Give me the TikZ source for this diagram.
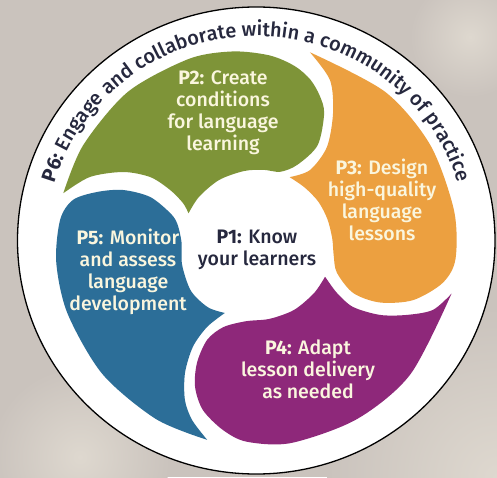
\documentclass[tikz,border=0pt]{standalone}
\usepackage{fontspec}
\setmainfont{Fira Sans}[UprightFont={* Medium},BoldFont={* Bold}]
\usetikzlibrary{decorations.text}
\definecolor{bgc}{RGB}{202,195,189}
\definecolor{bglight}{RGB}{222,216,207}
\definecolor{pgreen}{RGB}{126,148,56}
\definecolor{porange}{RGB}{236,160,64}
\definecolor{ppurple}{RGB}{142,40,122}
\definecolor{pblue}{RGB}{44,110,152}
\definecolor{navy}{RGB}{38,40,62}
\definecolor{cream}{RGB}{250,246,222}
\begin{document}
\begin{tikzpicture}[x=1pt,y=1pt,
  lbl/.style={align=center, text=cream, font=\fontsize{19.5}{22}\selectfont, inner sep=0pt}]
\useasboundingbox (0,0) rectangle (497,477);
\fill[bgc] (0,0) rectangle (497,477);
\shade[inner color=bglight, outer color=bgc] (497,0) circle (170);
\shade[inner color=bglight, outer color=bgc] (80,20) circle (90);
\shade[inner color=bglight, outer color=bgc] (470,440) circle (60);
\begin{scope}[shift={(256.5,232)}]
\filldraw[fill=white, draw=black, line width=1.3pt] (-0.25,4.5) ellipse [x radius=238.75, y radius=233.5];
% green P2
\fill[pgreen] plot[smooth] coordinates {(155:75) (140:75) (120:75) (100:75) (85:75.5) (72:77) (63:90) (58.5:117) (62.8:148) (67:162) (72:174) (78:183) (86:190) (97:195) (110:198) (130:200) (150:200) (165:200)}
  -- plot[smooth] coordinates {(165:200) (157.8:180) (151.3:152) (147.4:126) (147.5:102.5) (150.3:84.6) (155:75)} -- cycle;
% orange P3
\fill[porange] plot[smooth] coordinates {(64:75.5) (50:75) (35:75.5) (20:75.5) (5:76) (-8:78) (-19:85) (-26.4:108) (-25:136) (-19.4:166) (-11.5:190) (-4:199.5) (10:200.5) (30:200.5) (50:200) (74.5:200)}
  -- plot[smooth] coordinates {(74.5:200) (66:180.6) (59.9:152.6) (54.3:120.7) (54.5:92) (64:75.5)} -- cycle;
% purple P4
\fill[ppurple] plot[smooth] coordinates {(335:75.5) (320:75) (300:75) (280:75) (262:77) (248:88.6) (242.5:107) (243.2:132) (246.6:154.7) (252:173.5) (259.7:188) (267.2:197) (280:201) (300:201) (320:201) (346:201)}
  -- plot[smooth] coordinates {(346:201) (339.8:188) (335.1:166) (330.5:142) (327.3:114.7) (329.2:93.7) (335:76)} -- cycle;
% blue P5
\fill[pblue] plot[smooth] coordinates {(245:75) (232:79) (215:80) (195:77) (178:75) (165:82) (159.7:92) (155.7:116.8) (157.6:144.4) (161.6:168) (166.2:189) (172.7:198) (185:201) (200:201) (220:201) (240:201) (255.8:201)}
  -- plot[smooth] coordinates {(255.8:201) (249.8:186.5) (245.2:170.7) (240.8:146.6) (238:120) (238.9:95.8) (245:75)} -- cycle;
% ring text
\path[decorate, decoration={text along path, text align=center, text color=navy,
  text={|\fontsize{20}{20}\selectfont\bfseries|P6:|\fontsize{20}{20}\selectfont\mdseries| Engage and collaborate within a community of practice}}]
  (-0.25,4.5) ++(175:210 and 204.5) arc[start angle=175, end angle=5, x radius=210, y radius=204.5];
\end{scope}
\node[lbl] (p2) at (223,364.5) {\textbf{P2:} Create\\conditions\\for language\\learning};
\node[lbl] (p3) at (382,277) {\textbf{P3:} Design\\high-quality\\language\\lessons};
\node[lbl, text=navy] (p1) at (257,227) {\textbf{P1:} Know\\your learners};
\node[lbl] (p5) at (128,205.5) {\textbf{P5:} Monitor\\and assess\\language\\development};
\node[lbl] (p4) at (308,108) {\textbf{P4:} Adapt\\lesson delivery\\as needed};
\end{tikzpicture}
\end{document}
